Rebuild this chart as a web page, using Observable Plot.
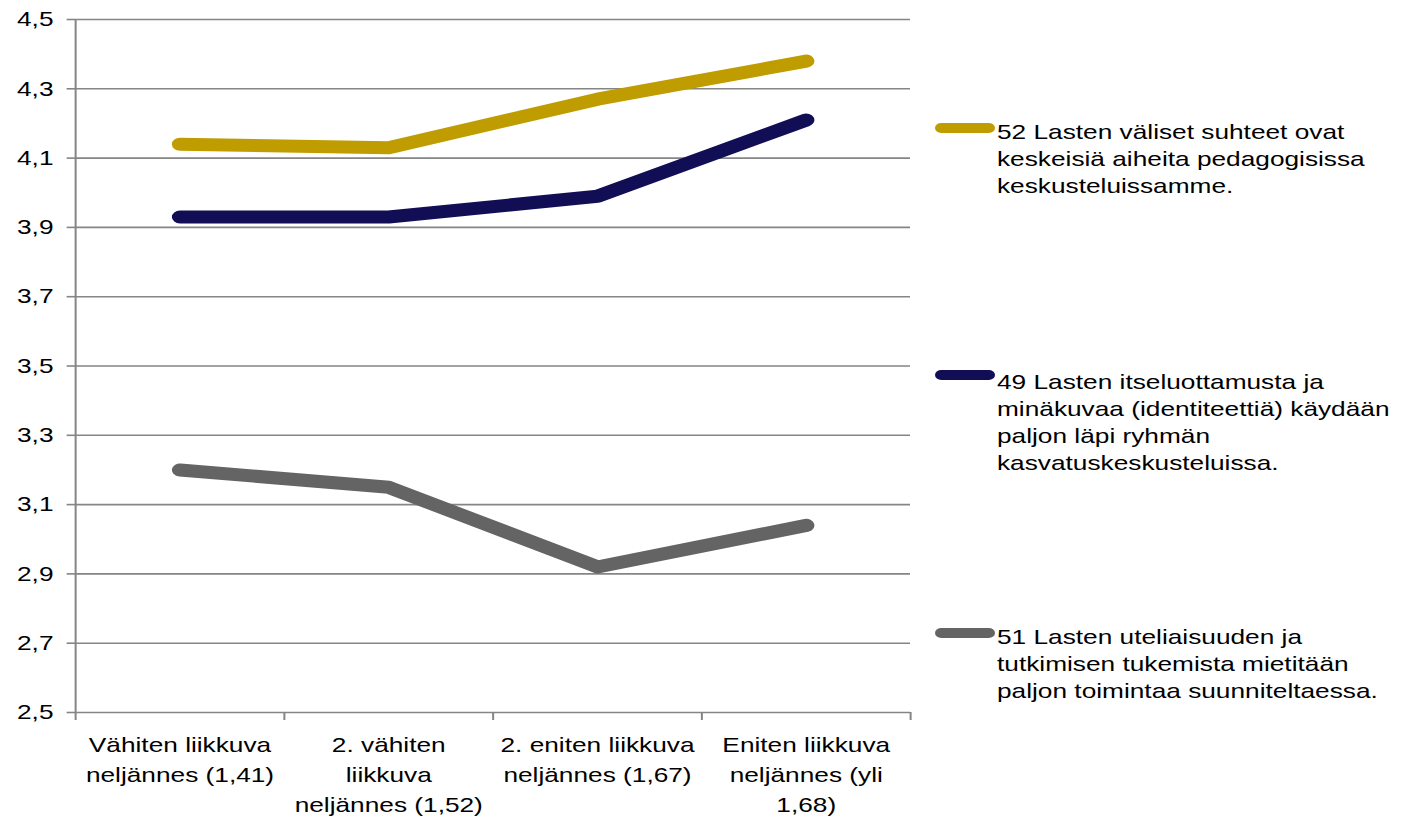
<!DOCTYPE html>
<html>
<head>
<meta charset="utf-8">
<script src="https://cdn.jsdelivr.net/npm/d3@7"></script>
<script src="https://cdn.jsdelivr.net/npm/@observablehq/plot@0.6"></script>
<style>
  html, body { margin: 0; padding: 0; background: #fff; overflow: hidden; }
  #wrap {
    position: relative; width: 1130px; height: 819px;
    transform: scaleX(1.25); transform-origin: 0 0;
    font-family: "Liberation Sans", Arial, sans-serif;
  }
  #chart { position: absolute; left: 0; top: 0; }
  .item { position: absolute; left: 748px; }
  .sw { position: absolute; left: 0; width: 48px; height: 10px; border-radius: 5px; }
  .txt { position: absolute; left: 49.6px; top: 0; font-size: 21px; line-height: 27px; color: #000; white-space: nowrap; }
</style>
</head>
<body>
<div id="wrap"><div id="chart"></div><div id="legend"></div></div>
<script>
// ---- data ----
const categories = [
  "Vähiten liikkuva\nneljännes (1,41)",
  "2. vähiten\nliikkuva\nneljännes (1,52)",
  "2. eniten liikkuva\nneljännes (1,67)",
  "Eniten liikkuva\nneljännes (yli\n1,68)"
];
const seriesNames = [
  "52 Lasten väliset suhteet ovat keskeisiä aiheita pedagogisissa keskusteluissamme.",
  "49 Lasten itseluottamusta ja minäkuvaa (identiteettiä) käydään paljon läpi ryhmän kasvatuskeskusteluissa.",
  "51 Lasten uteliaisuuden ja tutkimisen tukemista mietitään paljon toimintaa suunniteltaessa."
];
const legendLines = [
  ["52 Lasten väliset suhteet ovat", "keskeisiä aiheita pedagogisissa", "keskusteluissamme."],
  ["49 Lasten itseluottamusta ja", "minäkuvaa (identiteettiä) käydään", "paljon läpi ryhmän", "kasvatuskeskusteluissa."],
  ["51 Lasten uteliaisuuden ja", "tutkimisen tukemista mietitään", "paljon toimintaa suunniteltaessa."]
];
const values52 = [4.14, 4.13, 4.27, 4.38];
const values49 = [3.93, 3.93, 3.99, 4.21];
const values51 = [3.20, 3.15, 2.92, 3.04];
const seriesColors = ["#BF9C00", "#110E55", "#646464"];
const yTicks = [2.5, 2.7, 2.9, 3.1, 3.3, 3.5, 3.7, 3.9, 4.1, 4.3, 4.5];

// ---- table ----
const seriesValues = [values52, values49, values51];
const rows = [];
seriesNames.forEach((s, si) => {
  seriesValues[si].forEach((v, i) => rows.push({series: s, pos: i + 0.5, value: v}));
});
const boundaries = d3.range(categories.length + 1);
const centers = categories.map((c, i) => i + 0.5);
const fmt = d => d.toFixed(1).replace(".", ",");
const gridColor = "#858585";

const chart = Plot.plot({
  width: 1130,
  height: 819,
  marginLeft: 60,
  marginRight: 402,
  marginTop: 19,
  marginBottom: 107,
  style: {fontFamily: "'Liberation Sans', Arial, sans-serif", color: "#000", background: "#fff"},
  x: {type: "linear", domain: [0, categories.length]},
  y: {domain: [2.5, 4.5]},
  color: {domain: seriesNames, range: seriesColors},
  marks: [
    Plot.gridY(yTicks, {stroke: gridColor, strokeOpacity: 1, strokeWidth: 1.6}),
    Plot.ruleX([0], {stroke: gridColor, strokeWidth: 1.6}),
    Plot.axisY({ticks: yTicks, tickSize: 6.7, tickPadding: 11, tickFormat: fmt,
      fontSize: 21, stroke: gridColor, strokeWidth: 1.6, fill: "#000", label: null}),
    Plot.axisX({ticks: boundaries, tickSize: 8, tickFormat: () => "",
      stroke: gridColor, strokeWidth: 1.6, label: null}),
    Plot.axisX({ticks: centers, tickSize: 0, tickPadding: 18,
      tickFormat: d => categories[Math.floor(d)], fontSize: 21, lineHeight: 1.43,
      fill: "#000", label: null}),
    Plot.line(rows, {x: "pos", y: "value", z: "series", stroke: "series",
      strokeWidth: 13, strokeLinecap: "round", strokeLinejoin: "round"})
  ]
});
document.getElementById("chart").appendChild(chart);

// ---- legend (HTML, right of the plot) ----
const legendTops = [117.5, 367.5, 622.5];
const swatchOffsets = [5.5, 2, 5.5];
const legend = document.getElementById("legend");
seriesNames.forEach((s, i) => {
  const item = document.createElement("div");
  item.className = "item";
  item.style.top = legendTops[i] + "px";
  const sw = document.createElement("div");
  sw.className = "sw";
  sw.style.background = seriesColors[i];
  sw.style.top = swatchOffsets[i] + "px";
  const txt = document.createElement("div");
  txt.className = "txt";
  txt.innerHTML = legendLines[i].join("<br>");
  item.appendChild(sw);
  item.appendChild(txt);
  legend.appendChild(item);
});
</script>
</body>
</html>
